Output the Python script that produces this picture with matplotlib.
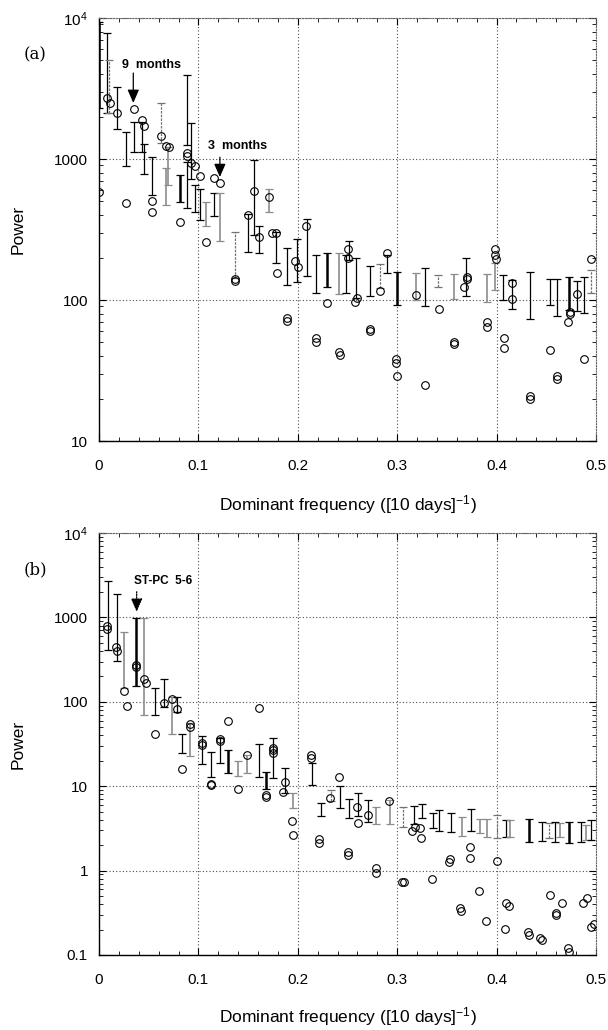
import numpy as np
import matplotlib
matplotlib.use('Agg')
import matplotlib.pyplot as plt
from matplotlib.ticker import MultipleLocator, LogLocator, NullFormatter

plt.rcParams['font.family'] = ['Liberation Sans', 'DejaVu Sans']
plt.rcParams['mathtext.fontset'] = 'custom'
plt.rcParams['mathtext.rm'] = 'Liberation Sans'
plt.rcParams['mathtext.it'] = 'Liberation Sans:italic'
plt.rcParams['mathtext.bf'] = 'Liberation Sans:bold'

# ---------------- data: panel (a) ----------------
circ_a_x = [0.000, 0.0077, 0.0107, 0.0178, 0.0268, 0.0349, 0.0429, 0.0456, 0.0536, 0.0536,
            0.0626, 0.0670, 0.0703, 0.0811, 0.0888, 0.0890, 0.0928, 0.0962, 0.1012, 0.1079,
            0.1159, 0.1219, 0.1370, 0.1372, 0.1497, 0.1561, 0.1605, 0.1709, 0.1742, 0.1776,
            0.1786, 0.1893, 0.1895, 0.1970, 0.2003, 0.2080, 0.2181, 0.2183, 0.2295, 0.2415,
            0.2420, 0.2500, 0.2506, 0.2580, 0.2597, 0.2724, 0.2726, 0.2824, 0.2901, 0.2985,
            0.2990, 0.3002, 0.3193, 0.3276, 0.3417, 0.3568, 0.3575, 0.3668, 0.3702, 0.3698,
            0.3902, 0.3902, 0.3987, 0.3987, 0.3993, 0.4070, 0.4070, 0.4158, 0.4158, 0.4339,
            0.4339, 0.4536, 0.4603, 0.4603, 0.4717, 0.4737, 0.4737, 0.4804, 0.4884, 0.4945]
circ_a_p = [586, 2720, 2480, 2110, 485, 2250, 1880, 1720, 504, 423,
            1450, 1237, 1210, 359, 1097, 1055, 942, 893, 762, 257,
            737, 673, 137, 140, 401, 595, 280, 541, 297, 297,
            156, 75, 71, 189, 172, 335, 53.5, 50.6, 95, 43,
            41, 200, 229, 97, 103, 60.5, 62, 115, 214, 38,
            36, 29, 109, 25, 87, 49, 50, 124, 145, 140,
            69.5, 64.5, 230, 210, 195, 54, 46, 131, 101, 21,
            20, 44, 29, 27.7, 70, 82, 80, 110, 38, 195]

bar_a_x = [0.0000, 0.0077, 0.0104, 0.0178, 0.0268, 0.0349, 0.0429, 0.0456, 0.0536, 0.0626,
           0.0670, 0.0697, 0.0811, 0.0888, 0.0885, 0.0928, 0.0962, 0.1012, 0.1079, 0.1159,
           0.1219, 0.1370, 0.1497, 0.1561, 0.1605, 0.1709, 0.1776, 0.1893, 0.1987, 0.2088,
           0.2181, 0.2295, 0.2415, 0.2480, 0.2516, 0.2590, 0.2731, 0.2824, 0.2901, 0.3002,
           0.3193, 0.3276, 0.3410, 0.3568, 0.3695, 0.3902, 0.3987, 0.4063, 0.4158, 0.4339,
           0.4533, 0.4603, 0.4727, 0.4804, 0.4884, 0.4951]
bar_a_lo = [2300, 2120, 2130, 1630, 897, 1128, 1115, 778, 556, 1292,
            472, 655, 498, 1259, 452, 718, 423, 369, 336, 394,
            263, 143, 220, 289, 216, 423, 182, 128, 134, 149,
            113, 124, 110, 113, 192, 103, 106, 121, 155, 92,
            100, 90, 124, 102, 107, 97, 118, 100, 86, 73,
            92, 77, 85, 83, 81, 112]
bar_a_hi = [9400, 7830, 5000, 3220, 1550, 1840, 1820, 1270, 1037, 2480,
            859, 1222, 771, 3945, 955, 1808, 655, 609, 498, 577,
            571, 305, 408, 985, 336, 612, 305, 235, 270, 373,
            208, 214, 217, 210, 262, 198, 174, 180, 208, 158,
            156, 168, 150, 153, 199, 153, 182, 150, 139, 158,
            140, 140, 146, 137, 146, 163]
# shade code: k = black, g = grey, d = dashed grey, t = thick black
bar_a_shade = ['t', 'k', 'd', 'k', 'k', 'k', 'k', 'k', 'k', 'd',
               'g', 'g', 't', 'k', 'k', 'k', 'k', 'k', 'g', 'k',
               'g', 'd', 'k', 'k', 'k', 'g', 'k', 'k', 'k', 'k',
               'k', 't', 'g', 'k', 'k', 'k', 'k', 'd', 'k', 't',
               'g', 'k', 'd', 'g', 'k', 'g', 'g', 'k', 'k', 'k',
               'k', 'k', 't', 'k', 'k', 'd']

# ---------------- data: panel (b) ----------------
circ_b_x = [0.0077, 0.0077, 0.0168, 0.0178, 0.0251, 0.0278, 0.0368, 0.0370, 0.0455, 0.0472,
            0.0563, 0.0653, 0.0730, 0.0781, 0.0831, 0.0915, 0.0917, 0.1032, 0.1034, 0.1126,
            0.1128, 0.1216, 0.1217, 0.1300, 0.1394, 0.1490, 0.1608, 0.1678, 0.1680, 0.1746,
            0.1748, 0.1749, 0.1853, 0.1870, 0.1937, 0.1953, 0.2137, 0.2131, 0.2211, 0.2216,
            0.2328, 0.2412, 0.2505, 0.2508, 0.2596, 0.2603, 0.2704, 0.2784, 0.2784, 0.2918,
            0.3048, 0.3065, 0.3149, 0.3183, 0.3233, 0.3243, 0.3350, 0.3530, 0.3523, 0.3634,
            0.3640, 0.3735, 0.3735, 0.3826, 0.3896, 0.4003, 0.4080, 0.4098, 0.4121, 0.4311,
            0.4328, 0.4439, 0.4455, 0.4533, 0.4600, 0.4600, 0.4661, 0.4717, 0.4727, 0.4865,
            0.4906, 0.4946, 0.4983]
circ_b_p = [790, 723, 443, 404, 135, 90, 273, 260, 186, 168,
            41.6, 96, 107, 82, 16, 54.6, 50, 32.2, 31, 10.6,
            10.2, 36, 34, 59, 9.2, 23.4, 85, 7.9, 7.5, 26.8,
            25, 28.5, 8.5, 11.1, 3.9, 2.64, 23.4, 21.8, 2.4, 2.14,
            7.2, 13, 1.67, 1.53, 5.7, 3.7, 4.56, 1.06, 0.93, 6.7,
            0.74, 0.74, 2.97, 3.3, 3.17, 2.45, 0.79, 1.36, 1.26, 0.357,
            0.335, 1.92, 1.42, 0.578, 0.255, 1.3, 0.205, 0.41, 0.38, 0.189,
            0.172, 0.158, 0.151, 0.514, 0.317, 0.295, 0.41, 0.12, 0.108, 0.417,
            0.478, 0.216, 0.233]

bar_b_x = [0.0087, 0.0178, 0.0254, 0.0369, 0.0455, 0.0563, 0.0653, 0.0730, 0.0781, 0.0837,
           0.0915, 0.1032, 0.1126, 0.1216, 0.1300, 0.1400, 0.1490, 0.1608, 0.1685, 0.1752,
           0.1870, 0.1953, 0.2142, 0.2231, 0.2339, 0.2422, 0.2516, 0.2606, 0.2707, 0.2791,
           0.2925, 0.3058, 0.3169, 0.3253, 0.3360, 0.3417, 0.3545, 0.3652, 0.3746, 0.3836,
           0.3906, 0.4007, 0.4090, 0.4131, 0.4325, 0.4455, 0.4526, 0.4590, 0.4640, 0.4727,
           0.4851, 0.4902, 0.4952]
bar_b_lo = [411, 304, 145, 154, 70, 70, 87.5, 42, 76, 24.6,
            22.8, 18.3, 13, 18.7, 14.2, 13.2, 14.5, 13, 9.3, 12.4,
            8.2, 5.5, 10.3, 4.4, 6.7, 5.5, 4.2, 4.4, 3.8, 3.6,
            3.6, 3.26, 3.6, 4.2, 3.17, 2.97, 2.9, 2.6, 2.97, 2.82,
            2.48, 2.45, 2.48, 2.5, 2.2, 2.27, 2.45, 2.2, 2.48, 2.14,
            2.2, 2.29, 2.29]
bar_b_hi = [2720, 1880, 667, 975, 975, 145, 185, 115, 113, 41.6,
            55.6, 39.6, 25.2, 36.9, 26.8, 20, 23.4, 31.4, 14.6, 36.9,
            16.3, 8.2, 19, 6.4, 9.0, 10, 7.0, 8.2, 6.9, 5.7,
            6.9, 5.6, 5.8, 6.2, 4.85, 5.2, 4.85, 4.3, 5.3, 4.06,
            4.06, 4.56, 4.0, 4.0, 4.06, 3.8, 3.63, 3.73, 3.63, 3.8,
            3.73, 3.47, 3.98]
bar_b_shade = ['k', 'k', 'g', 't', 'g', 'k', 'k', 'g', 'k', 'k',
               'g', 'k', 'k', 'k', 't', 'g', 'g', 'k', 't', 'k',
               'k', 'g', 'k', 'k', 'd', 'k', 'k', 'k', 'k', 'g',
               'g', 'd', 'k', 'k', 'k', 'k', 'k', 'g', 'k', 'g',
               'g', 'd', 'k', 'g', 't', 'k', 'd', 'k', 'g', 't',
               'k', 'g', 'k']

xticks = [0, 0.1, 0.2, 0.3, 0.4, 0.5]
xticklabels = ['0', '0.1', '0.2', '0.3', '0.4', '0.5']
yticks_a = [10, 100, 1000, 10000]
yticklabels_a = ['10', '100', '1000', r'$\mathregular{10^4}$']
yticks_b = [0.1, 1, 10, 100, 1000, 10000]
yticklabels_b = ['0.1', '1', '10', '100', '1000', r'$\mathregular{10^4}$']

SHADES = {'k': dict(color='black', lw=0.9, ls='-'),
          'g': dict(color='0.55', lw=1.2, ls='-'),
          'd': dict(color='0.45', lw=0.9, ls=(0, (2, 1))),
          't': dict(color='black', lw=1.8, ls='-')}

fig = plt.figure(figsize=(6.08, 10.30), dpi=100)
axa = fig.add_axes([99 / 608, 1 - 441 / 1030, 497 / 608, 423 / 1030])
axb = fig.add_axes([99 / 608, 1 - 955 / 1030, 497 / 608, 422 / 1030])


def style(ax, ylim, yticks, ylabels):
    ax.set_yscale('log')
    ax.set_xlim(0, 0.5)
    ax.set_ylim(*ylim)
    ax.set_xticks(xticks)
    ax.set_xticklabels(xticks and xticklabels)
    ax.xaxis.set_minor_locator(MultipleLocator(0.02))
    ax.set_yticks(yticks)
    ax.set_yticklabels(ylabels)
    ax.yaxis.set_minor_locator(LogLocator(base=10, subs=np.arange(2, 10)))
    ax.yaxis.set_minor_formatter(NullFormatter())
    ax.tick_params(which='both', direction='in', top=True, right=True)
    ax.tick_params(which='major', length=5, width=0.8, labelsize=11)
    ax.tick_params(which='minor', length=3, width=0.6)
    ax.tick_params(axis='y', which='major', pad=8)
    ax.tick_params(axis='x', which='major', pad=13)
    ax.grid(True, which='major', linestyle=(0, (1, 2)), color='0.3', linewidth=0.8)
    for s in ['top', 'right']:
        ax.spines[s].set_linestyle((0, (1, 1.5)))
        ax.spines[s].set_color('0.4')
    for s in ['left', 'bottom']:
        ax.spines[s].set_linewidth(1.0)


def draw(ax, bx, blo, bhi, bshade, cx, cp):
    for x, lo, hi, sh in zip(bx, blo, bhi, bshade):
        st = SHADES[sh]
        eb = ax.errorbar([x], [hi], yerr=[[hi - lo], [0]], fmt='none',
                         ecolor=st['color'], elinewidth=st['lw'], capsize=3,
                         capthick=0.9)
        eb[2][0].set_linestyle(st['ls'])
    ax.plot(cx, cp, 'o', mfc='none', mec='black', ms=5.5, mew=0.8, zorder=5)


style(axa, (10, 10000), yticks_a, yticklabels_a)
style(axb, (0.1, 10000), yticks_b, yticklabels_b)
draw(axa, bar_a_x, bar_a_lo, bar_a_hi, bar_a_shade, circ_a_x, circ_a_p)
draw(axb, bar_b_x, bar_b_lo, bar_b_hi, bar_b_shade, circ_b_x, circ_b_p)

# annotations
arrow_kw = dict(arrowstyle='-|>,head_length=0.8,head_width=0.35', color='black', lw=0.9,
                shrinkA=0, shrinkB=0)
axa.annotate('', xy=(0.0345, 2500), xytext=(0.0345, 4070), arrowprops=arrow_kw)
axa.text(0.0529, 4640, '9  months', ha='center', va='center', fontsize=9, fontweight='bold')
axa.annotate('', xy=(0.1216, 745), xytext=(0.1216, 1030), arrowprops=arrow_kw)
axa.text(0.1397, 1242, '3  months', ha='center', va='center', fontsize=9, fontweight='bold')
arrow_kw_b = dict(arrow_kw)
arrow_kw_b['linestyle'] = (0, (1, 1))
axb.annotate('', xy=(0.0379, 1167), xytext=(0.0379, 2013), arrowprops=arrow_kw_b)
axb.text(0.0643, 2720, 'ST-PC  5-6', ha='center', va='center', fontsize=8.5, fontweight='bold')

fig.text(35 / 608, 1 - 55 / 1030, '(a)', ha='center', va='center', fontsize=12,
         family='DejaVu Serif')
fig.text(35 / 608, 1 - 570 / 1030, '(b)', ha='center', va='center', fontsize=12,
         family='DejaVu Serif')

xl = r'Dominant frequency ([10 days]$^{\mathregular{-1}}$)'
fig.text(348 / 608, 1 - 505 / 1030, xl, ha='center', va='center', fontsize=12.5)
fig.text(348 / 608, 1 - 1017 / 1030, xl, ha='center', va='center', fontsize=12.5)
fig.text(18 / 608, 1 - 229 / 1030, 'Power', ha='center', va='center', fontsize=12.5, rotation=90)
fig.text(18 / 608, 1 - 744 / 1030, 'Power', ha='center', va='center', fontsize=12.5, rotation=90)

fig.savefig('out.png', dpi=100)
